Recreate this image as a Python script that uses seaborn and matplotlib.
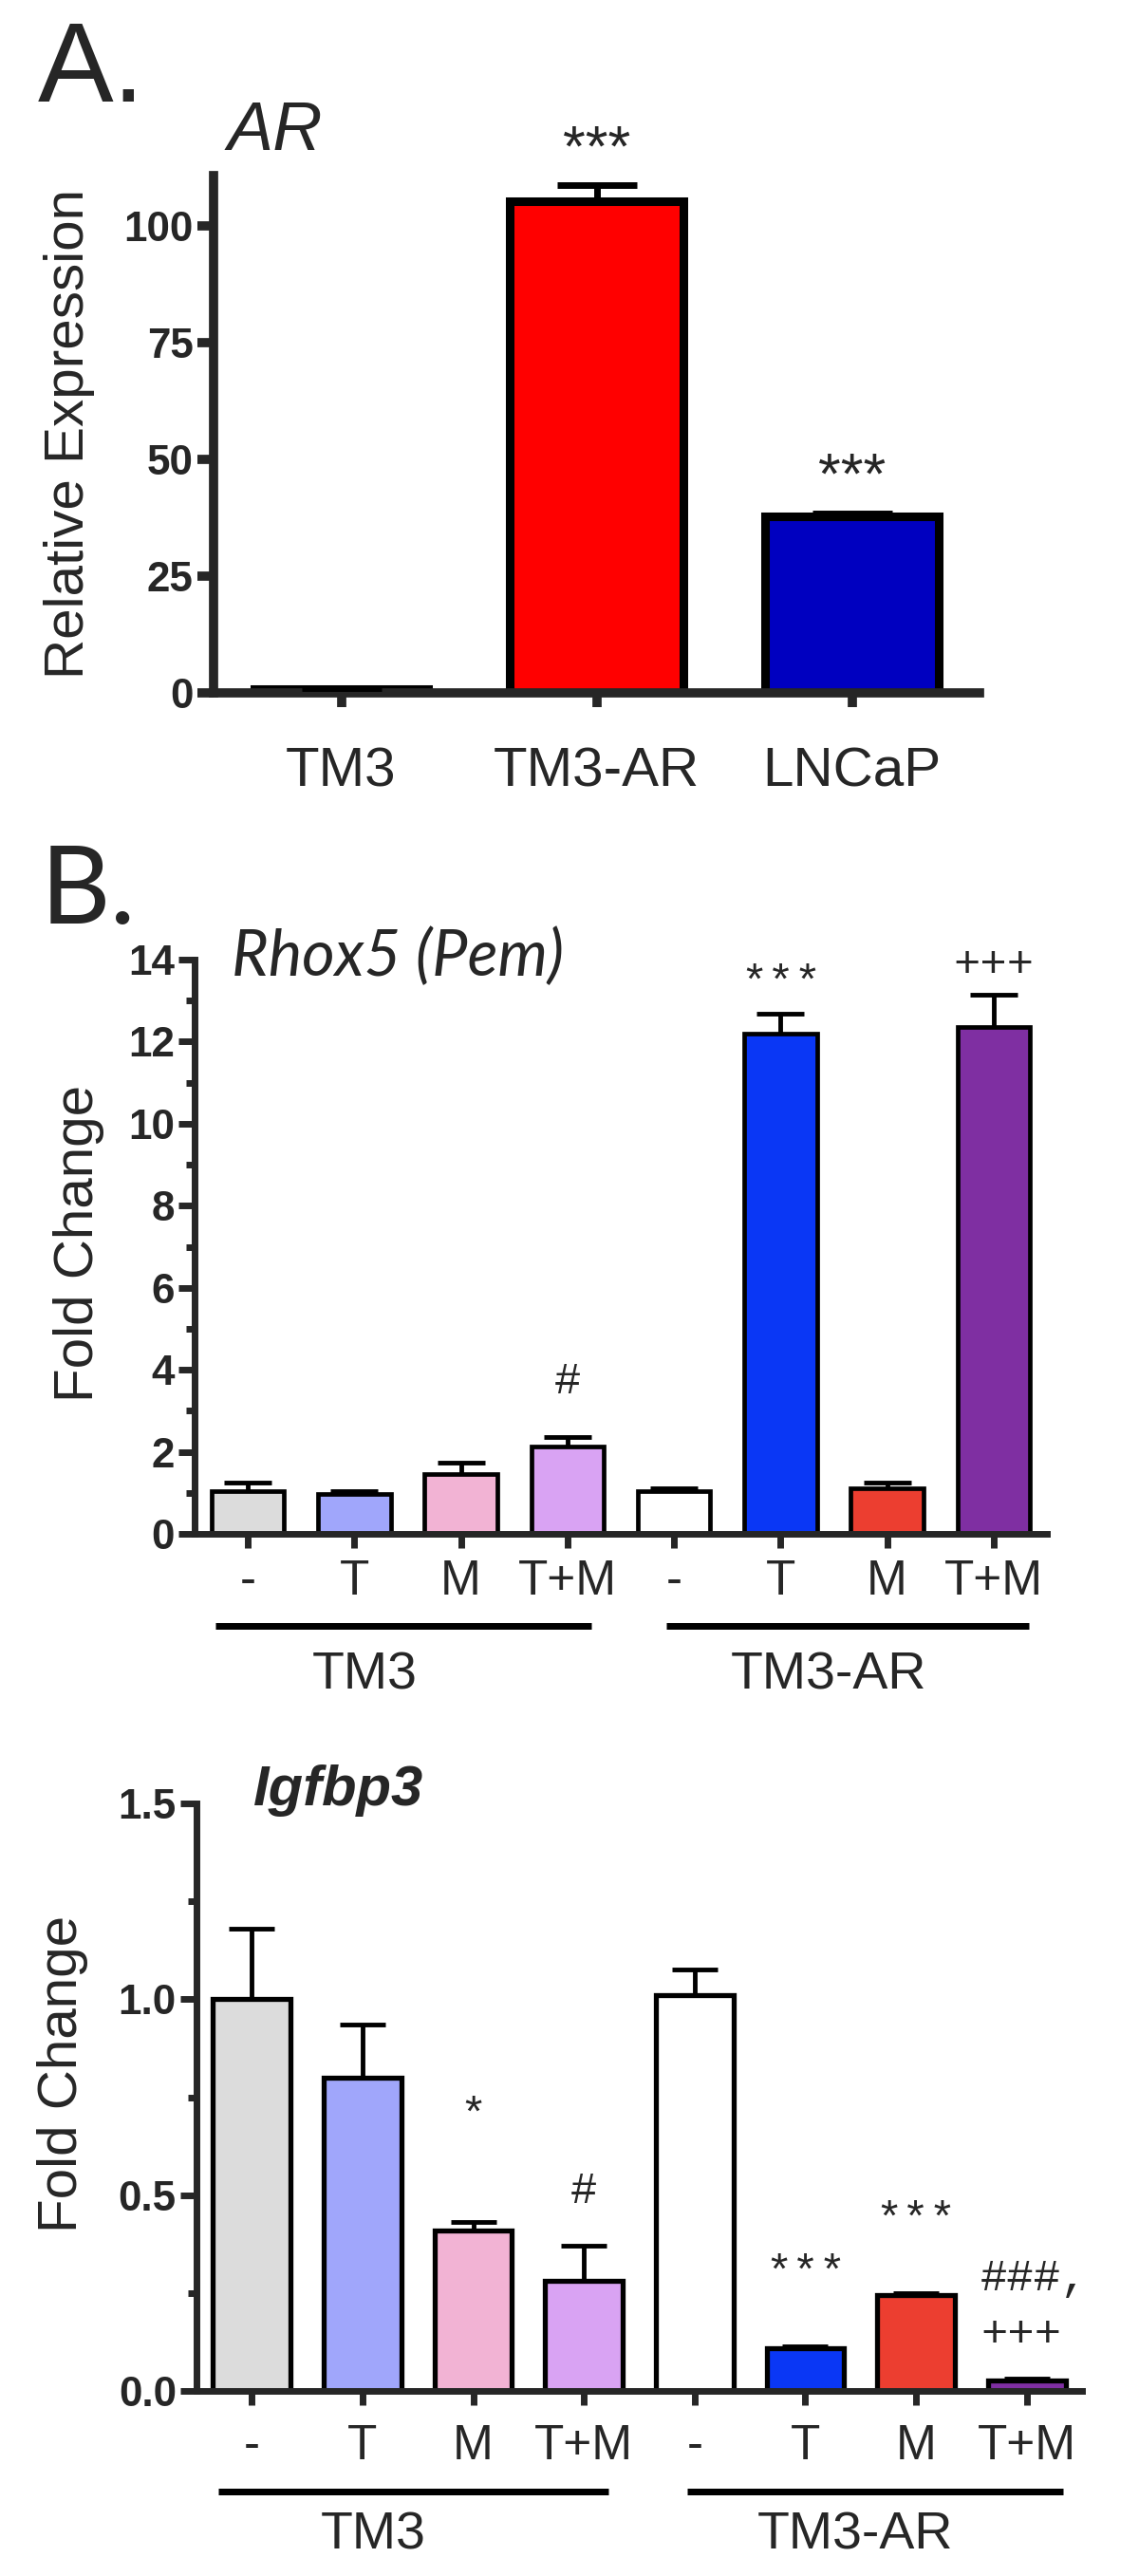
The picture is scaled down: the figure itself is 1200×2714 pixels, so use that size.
import numpy as np
import pandas as pd
import matplotlib
matplotlib.use('Agg')
import matplotlib.pyplot as plt
import matplotlib.transforms as mtransforms
import seaborn as sns
from matplotlib import font_manager

# ── Data ───────────────────────────────────────────────────────────────────
# A. AR expression
ar_cells = ['TM3', 'TM3-AR', 'LNCaP']
ar_mean = [0.9, 105.3, 37.8]
ar_sem = [0.2, 3.5, 0.6]
ar_colors = ['#ffffff', '#ff0000', '#0000c0']
ar_marks = [(1, '***', 116.0), (2, '***', 46.0)]

# B. shared x layout
treatments = ['-', 'T', 'M', 'T+M', '-', 'T', 'M', 'T+M']
groups = ['TM3', 'TM3-AR']
group_idx = [(0, 3), (4, 7)]
bar_colors = ['#dcdcdc', '#a0a6fb', '#f2b3d4', '#d9a3f3',
              '#ffffff', '#0a37f5', '#ec3e30', '#7f2fa2']

# Rhox5 (Pem)
rhox_mean = [1.03, 0.97, 1.45, 2.14, 1.03, 12.2, 1.11, 12.35]
rhox_sem = [0.23, 0.06, 0.29, 0.23, 0.08, 0.48, 0.15, 0.80]
rhox_marks = [(3, '#', 3.7), (5, '***', 13.4), (7, '+++', 13.85)]

# Igfbp3
igf_mean = [1.00, 0.80, 0.41, 0.28, 1.01, 0.11, 0.245, 0.027]
igf_sem = [0.18, 0.135, 0.022, 0.09, 0.066, 0.005, 0.005, 0.004]
igf_marks = [(2, '*', 0.70), (3, '#', 0.51), (5, '***', 0.30),
             (6, '***', 0.435), (7, '###,\n+++', 0.215)]

# ── Style / fonts ──────────────────────────────────────────────────────────
sns.set_style('ticks')
avail = {f.name for f in font_manager.fontManager.ttflist}
SANS = 'Liberation Sans' if 'Liberation Sans' in avail else 'DejaVu Sans'
if 'Liberation Sans Narrow' in avail:
    NARROW, NSCALE = 'Liberation Sans Narrow', 1.0
else:
    NARROW, NSCALE = SANS, 0.88
CALI = 'Lato' if 'Lato' in avail else SANS
MONO = 'Liberation Mono' if 'Liberation Mono' in avail else 'DejaVu Sans Mono'
plt.rcParams['font.family'] = [SANS, 'DejaVu Sans']

W, H = 1200, 2714
fig = plt.figure(figsize=(W / 100, H / 100), dpi=100)
PX = 72 / 100  # points per pixel


def add_ax(l, t, r, b):
    return fig.add_axes([l / W, 1 - b / H, (r - l) / W, (b - t) / H])


def draw_bars(ax, labels, means, sems, colors, width, edge_lw, err_lw, cap):
    df = pd.DataFrame({'cond': labels, 'mean': means})
    sns.barplot(data=df, x='cond', y='mean', hue='cond', palette=colors,
                legend=False, errorbar=None, saturation=1, width=width,
                edgecolor='black', linewidth=edge_lw, ax=ax, zorder=2)
    n = len(means)
    eb = ax.errorbar(np.arange(n), means, yerr=[np.zeros(n), sems], fmt='none',
                     ecolor='black', elinewidth=err_lw, capsize=cap,
                     capthick=err_lw, zorder=3, clip_on=False)
    # only the upper cap (GraphPad style)
    caps = sorted(eb[1], key=lambda c: np.mean(c.get_ydata()))
    caps[0].set_visible(False)
    ax.set_xlim(-0.5, n - 0.5)


def style_axis(ax, lw, ylab, ylab_xy, yticks, yticklabels, ysize,
               xlabels, xsize, xpad, minor=None):
    sns.despine(ax=ax)
    for s in ['left', 'bottom']:
        ax.spines[s].set_linewidth(lw)
        ax.spines[s].set_capstyle('projecting')
    ax.set_yticks(yticks, labels=yticklabels)
    if minor is not None:
        ax.set_yticks(minor, minor=True)
    for t in ax.get_yticklabels():
        t.set_fontfamily(NARROW)
        t.set_fontweight('bold')
        t.set_fontsize(ysize * NSCALE)
    ax.set_xticks(range(len(xlabels)), labels=xlabels)
    for t in ax.get_xticklabels():
        t.set_fontsize(xsize)
    ax.tick_params(axis='y', which='major', length=17 * PX, width=lw, pad=3)
    ax.tick_params(axis='y', which='minor', length=9 * PX, width=lw)
    ax.tick_params(axis='x', which='major', length=15 * PX, width=lw, pad=xpad)
    ax.set_xlabel('')
    ax.set_ylabel(ylab, fontsize=42, family=SANS)
    # label centre given in pixels
    bb = ax.get_position()
    lx = (ylab_xy[0] / W - bb.x0) / bb.width
    ly = ((1 - ylab_xy[1] / H) - bb.y0) / bb.height
    ax.yaxis.set_label_coords(lx, ly)
    ax.yaxis.label.set_va('center')


def marks(ax, items, family, size, dx=0.0, weight='normal'):
    for i, txt, y in items:
        ax.text(i + (dx if '\n' in txt else 0), y, txt, ha='center',
                va='center', fontsize=size, family=family, weight=weight,
                multialignment='left', linespacing=1.45, clip_on=False)


def group_bars(ax, line_y, text_y, size):
    trans = mtransforms.blended_transform_factory(ax.transData, ax.transAxes)
    pads = [(-0.3, 0.22, -0.4), (-0.07, 0.33, -0.05)]
    for (a, b), name, (p0, p1, off) in zip(group_idx, groups, pads):
        ax.plot([a + p0, b + p1], [line_y, line_y], color='black', lw=7 * PX,
                transform=trans, clip_on=False, solid_capstyle='butt')
        ax.text((a + b) / 2 + off, text_y, name, transform=trans, ha='center',
                va='center', fontsize=size, family=SANS)


def frac_y(ax, ypx):
    bb = ax.get_position()
    return ((1 - ypx / H) - bb.y0) / bb.height


# ── Panel A ────────────────────────────────────────────────────────────────
axA = add_ax(225, 185, 1032, 730)
draw_bars(axA, ar_cells, ar_mean, ar_sem, ar_colors, 0.68, 6.5, 5.0, 30)
axA.set_ylim(0, 110.8)
style_axis(axA, 7, 'Relative Expression', (73, 457), [0, 25, 50, 75, 100],
           ['0', '25', '50', '75', '100'], 36, ar_cells, 42, 30)
marks(axA, ar_marks, SANS, 44)
fig.text(40 / W, 1 - 107 / H, 'A.', fontsize=86, family=SANS, va='baseline')
fig.text(240 / W, 1 - 158 / H, 'AR', fontsize=52, family=SANS,
         style='italic', va='baseline')

# ── Panel B: Rhox5 ─────────────────────────────────────────────────────────
cond = [f'{g} {t}' for g, t in zip([groups[0]] * 4 + [groups[1]] * 4, treatments)]
axB = add_ax(205, 1011, 1103, 1616)
draw_bars(axB, cond, rhox_mean, rhox_sem, bar_colors, 0.68, 3.4, 3.5, 18)
axB.set_ylim(0, 14)
style_axis(axB, 5, 'Fold Change', (83, 1310), list(range(0, 15, 2)),
           [str(v) for v in range(0, 15, 2)], 36, treatments, 37, 8,
           minor=list(range(1, 14, 2)))
marks(axB, rhox_marks, MONO, 34)
group_bars(axB, frac_y(axB, 1713), frac_y(axB, 1765), 40)
fig.text(43 / W, 1 - 973 / H, 'B.', fontsize=82, family=CALI, va='baseline')
fig.text(244 / W, 1 - 1028 / H, 'Rhox5 (Pem)', fontsize=48, family=CALI,
         style='italic', va='baseline')

# ── Panel C: Igfbp3 ────────────────────────────────────────────────────────
axC = add_ax(207, 1900, 1140, 2519)
draw_bars(axC, cond, igf_mean, igf_sem, bar_colors, 0.70, 3.8, 3.5, 17)
axC.set_ylim(0, 1.5)
style_axis(axC, 5, 'Fold Change', (66, 2185), [0, 0.5, 1.0, 1.5],
           ['0.0', '0.5', '1.0', '1.5'], 36, treatments, 37, 14,
           minor=[0.25, 0.75, 1.25])
marks(axC, igf_marks, MONO, 34, dx=0.07)
group_bars(axC, frac_y(axC, 2625), frac_y(axC, 2672), 40)
fig.text(267 / W, 1 - 1902 / H, 'Igfbp3', fontsize=43, family=SANS,
         style='italic', weight='bold', va='baseline')

fig.savefig('out.png', dpi=100)
